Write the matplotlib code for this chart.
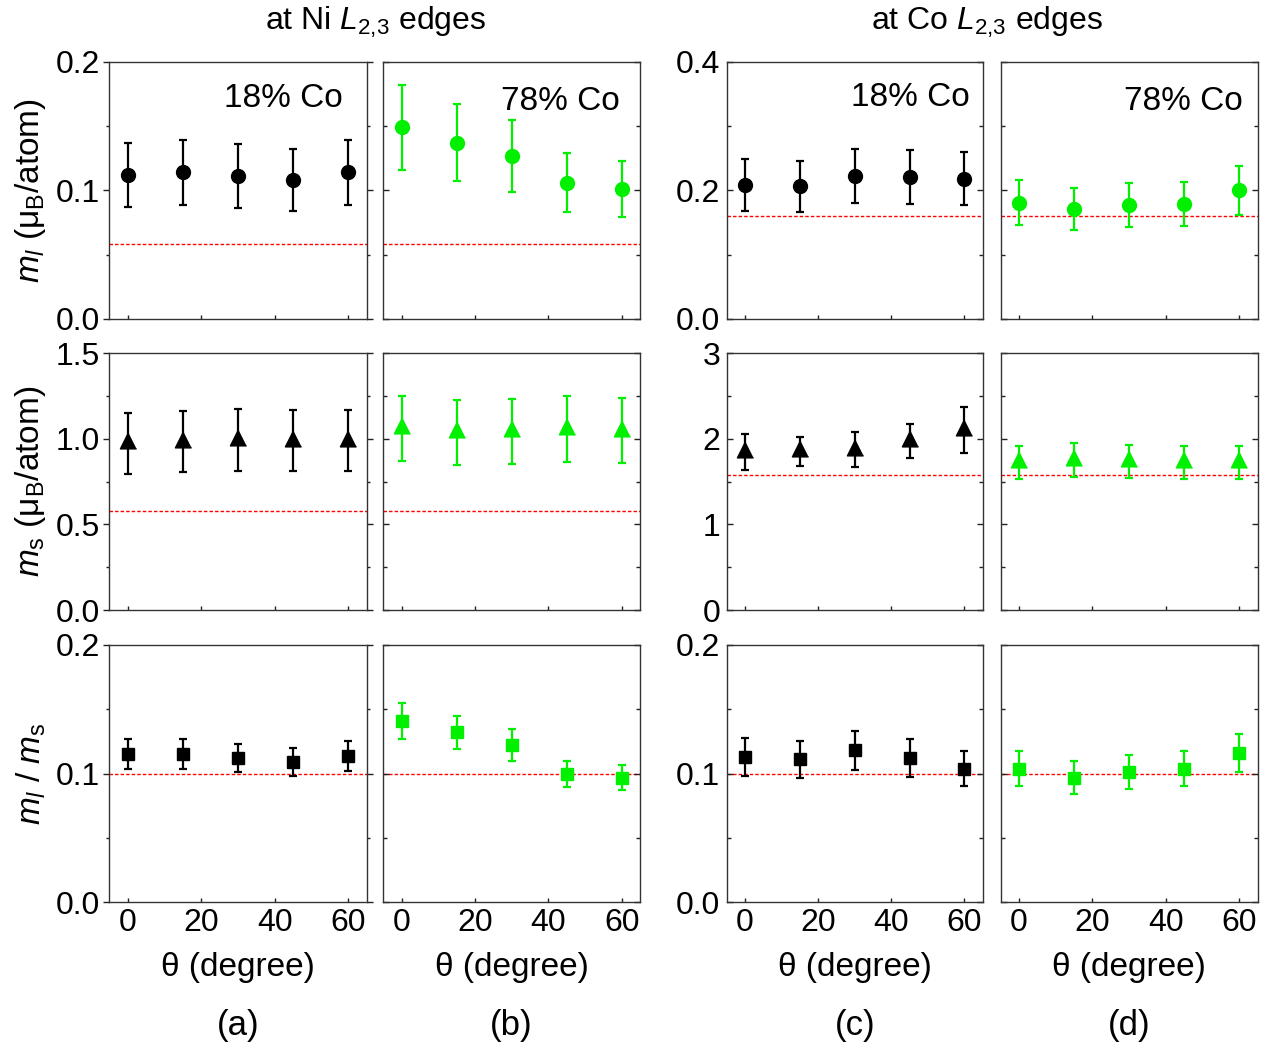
import matplotlib
matplotlib.use('Agg')
import matplotlib.pyplot as plt
from matplotlib.ticker import MultipleLocator, FormatStrFormatter

plt.rcParams['font.family'] = ['Liberation Sans', 'DejaVu Sans']
plt.rcParams['mathtext.fontset'] = 'custom'
plt.rcParams['mathtext.rm'] = 'Liberation Sans'
plt.rcParams['mathtext.it'] = 'Liberation Sans:italic'

theta = [0, 15, 30, 45, 60]

# orbital moment m_l
ml_ni_18 = [0.112, 0.114, 0.111, 0.108, 0.114]
ml_ni_18_err = [0.025, 0.025, 0.025, 0.024, 0.025]
ml_ni_78 = [0.149, 0.137, 0.127, 0.106, 0.101]
ml_ni_78_err = [0.033, 0.030, 0.028, 0.023, 0.022]
ml_co_18 = [0.208, 0.206, 0.222, 0.221, 0.218]
ml_co_18_err = [0.040, 0.040, 0.042, 0.042, 0.041]
ml_co_78 = [0.181, 0.171, 0.177, 0.179, 0.200]
ml_co_78_err = [0.035, 0.033, 0.034, 0.034, 0.038]

# spin moment m_s
ms_ni_18 = [0.975, 0.984, 0.994, 0.990, 0.990]
ms_ni_18_err = [0.178, 0.179, 0.180, 0.180, 0.180]
ms_ni_78 = [1.061, 1.039, 1.044, 1.057, 1.047]
ms_ni_78_err = [0.192, 0.190, 0.189, 0.192, 0.190]
ms_co_18 = [1.845, 1.855, 1.872, 1.971, 2.104]
ms_co_18_err = [0.210, 0.168, 0.205, 0.199, 0.273]
ms_co_78 = [1.728, 1.755, 1.740, 1.726, 1.728]
ms_co_78_err = [0.193, 0.197, 0.193, 0.191, 0.193]

# ratio m_l / m_s
r_ni_18 = [0.115, 0.115, 0.112, 0.109, 0.114]
r_ni_18_err = [0.0117, 0.0117, 0.011, 0.011, 0.0117]
r_ni_78 = [0.141, 0.132, 0.122, 0.100, 0.097]
r_ni_78_err = [0.014, 0.013, 0.0125, 0.010, 0.0098]
r_co_18 = [0.113, 0.111, 0.118, 0.112, 0.104]
r_co_18_err = [0.0148, 0.0146, 0.0155, 0.0148, 0.0136]
r_co_78 = [0.104, 0.097, 0.101, 0.104, 0.116]
r_co_78_err = [0.0136, 0.0127, 0.0132, 0.0136, 0.0151]

# dashed reference values
ref_ml = [0.058, 0.058, 0.16, 0.16]
ref_ms = [0.58, 0.58, 1.58, 1.58]
ref_r = [0.1, 0.1, 0.1, 0.1]

panel_labels = ['(a)', '(b)', '(c)', '(d)']
conc_labels = ['18% Co', '78% Co', '18% Co', '78% Co']
conc_pos = [(0.908, 0.857), (0.922, 0.847), (0.95, 0.862), (0.943, 0.847)]
colors = ['black', '#00f000', 'black', '#00f000']

rows = [
    ([ml_ni_18, ml_ni_78, ml_co_18, ml_co_78],
     [ml_ni_18_err, ml_ni_78_err, ml_co_18_err, ml_co_78_err], ref_ml),
    ([ms_ni_18, ms_ni_78, ms_co_18, ms_co_78],
     [ms_ni_18_err, ms_ni_78_err, ms_co_18_err, ms_co_78_err], ref_ms),
    ([r_ni_18, r_ni_78, r_co_18, r_co_78],
     [r_ni_18_err, r_ni_78_err, r_co_18_err, r_co_78_err], ref_r),
]
# y limits and ticks per row, (Ni columns, Co columns)
ylims = [((0, 0.2), (0, 0.4)), ((0, 1.5), (0, 3)), ((0, 0.2), (0, 0.2))]
ymajor = [(0.1, 0.2), (0.5, 1), (0.1, 0.1)]
yfmt = [('%.1f', '%.1f'), ('%.1f', '%d'), ('%.1f', '%.1f')]
# triangle centred on its centroid, like the original plotting program
markers = ['o', [(0, 1), (-0.75, -0.5), (0.75, -0.5)], 's']
msizes = [10, 15.5, 8.6]

ylabels = [r'$m_l\ (\mathrm{\mu_B/atom})$',
           r'$m_\mathrm{s}\ (\mathrm{\mu_B/atom})$',
           r'$m_l\ /\ m_\mathrm{s}$']

fig = plt.figure(figsize=(12.66, 10.52), dpi=100)
W, H = 1266.0, 1052.0
col_x = [(109.3, 366.7), (383.3, 640.0), (726.7, 982.7), (1000.7, 1257.7)]
row_y = [(61.7, 319.0), (353.3, 610.0), (645.0, 902.3)]

frame_col = '#333333'
for r in range(3):
    vals, errs, refs = rows[r]
    for c in range(4):
        x0, x1 = col_x[c]
        y0, y1 = row_y[r]
        ax = fig.add_axes([x0 / W, 1 - y1 / H, (x1 - x0) / W, (y1 - y0) / H])
        for s in ax.spines.values():
            s.set_color(frame_col)
            s.set_linewidth(1.0)
        ax.axhline(refs[c], color='red', lw=1.0, ls=(0, (2.5, 1.5)), zorder=1)
        ax.errorbar(theta, vals[c], yerr=errs[c], fmt='none', ecolor=colors[c],
                    elinewidth=1.6, capsize=2.6, capthick=1.6, zorder=2)
        ax.plot(theta, vals[c], ls='none', marker=markers[r], ms=msizes[r],
                color=colors[c], mec=colors[c], zorder=3)
        ax.set_xlim(-5, 65)
        ax.set_xticks([0, 20, 40, 60])
        ci = 0 if c < 2 else 1
        ax.set_ylim(*ylims[r][ci])
        ax.yaxis.set_major_locator(MultipleLocator(ymajor[r][ci]))
        ax.yaxis.set_minor_locator(MultipleLocator(ymajor[r][ci] / 2))
        ax.yaxis.set_major_formatter(FormatStrFormatter(yfmt[r][ci]))
        ax.tick_params(axis='both', which='both', direction='in', colors='#222222',
                       labelsize=23, labelcolor='black', right=True, top=False,
                       width=1.0)
        ax.tick_params(axis='x', which='major', length=3, pad=4)
        ax.tick_params(axis='y', which='major', length=4, pad=4.8)
        ax.tick_params(axis='y', which='minor', length=3)
        if c == 0:
            # left ticks of the first column point outward
            ax.tick_params(axis='y', which='both', direction='out')
            ax.tick_params(axis='y', which='major', length=4, pad=2.5)
            ax.tick_params(axis='y', which='minor', length=2.5)
        if c in (1, 3):
            ax.tick_params(axis='y', labelleft=False)
        if r < 2:
            ax.tick_params(axis='x', labelbottom=False)
        else:
            ax.text(0.5, -0.255, 'θ (degree)', fontsize=24, ha='center',
                    va='center', transform=ax.transAxes)
            ax.text(0.5, -0.477, panel_labels[c], fontsize=25, ha='center',
                    va='center', transform=ax.transAxes)
        if c == 0:
            ax.set_ylabel(ylabels[r], fontsize=24)
            ax.yaxis.set_label_coords(-0.237, 0.5)
        if r == 0:
            ax.text(conc_pos[c][0], conc_pos[c][1], conc_labels[c], fontsize=24,
                    ha='right', va='center', transform=ax.transAxes)

fig.text(376 / W, 1 - 22 / H, r'at Ni $L_{\mathit{2{,}3}}$ edges', fontsize=23,
         ha='center', va='center')
fig.text(987 / W, 1 - 22 / H, r'at Co $L_{\mathit{2{,}3}}$ edges', fontsize=23,
         ha='center', va='center')

fig.savefig('out.png', dpi=100)
